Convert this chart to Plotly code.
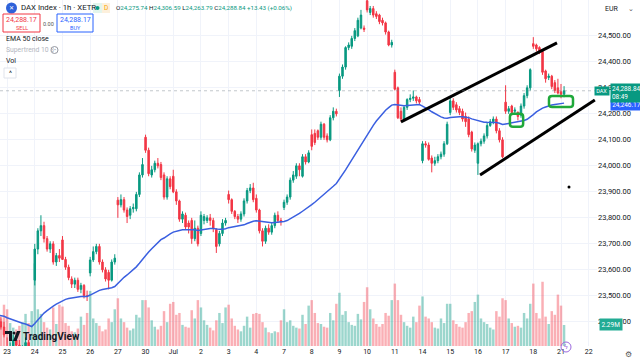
import plotly.graph_objects as go

# ---------------- data ----------------
DAY_LABELS = ["23", "24", "25", "26", "27", "30", "Jul", "2", "3", "4", "7",
              "8", "9", "10", "11", "14", "15", "16", "17", "18", "21", "22"]
BARS_PER_DAY = 9
FIRST_INDEX = -3   # last three hourly bars of Jun 20 precede Jun 23

OPEN = [23420, 23400, 23380,
        23300, 23280, 23300, 23330, 23310, 23270, 23290, 23320, 23260,
        23560, 23680, 23750, 23770, 23720, 23680, 23700, 23630, 23655,
        23715, 23640, 23610, 23565, 23545, 23560, 23525, 23540, 23500,
        23588, 23638, 23670, 23690, 23630, 23600, 23590, 23560, 23630,
        23868, 23850, 23870, 23830, 23810, 23835, 23835, 23890, 23965,
        24110, 24060, 23965, 23985, 24010, 24005, 23965, 23880, 23950,
        23960, 23900, 23865, 23795, 23810, 23780, 23790, 23720, 23760,
        23740, 23790, 23790, 23800, 23790, 23755, 23700, 23740, 23780,
        23890, 23870, 23825, 23805, 23795, 23815, 23865, 23905, 23915,
        23875, 23830, 23750, 23710, 23760, 23745, 23770, 23810, 23790,
        23840, 23860, 23880, 23945, 23960, 24000, 23960, 24035, 24015,
        24120, 24125, 24135, 24110, 24160, 24115, 24100, 24185, 24210,
        24290, 24345, 24380, 24455, 24460, 24490, 24500, 24530, 24530,
        24635, 24590, 24605, 24585, 24580, 24560, 24550, 24515, 24465,
        24360, 24300, 24210, 24180, 24225, 24255, 24260, 24265, 24255,
        24020, 24085, 24080, 24030, 24010, 24020, 24035, 24045, 24085,
        24205, 24250, 24235, 24220, 24210, 24190, 24180, 24130, 24060,
        24010, 24085, 24095, 24115, 24155, 24170, 24180, 24135, 24100,
        24245, 24210, 24230, 24210, 24205, 24195, 24230, 24270, 24300,
        24470, 24465, 24455, 24440, 24365, 24340, 24345, 24320, 24300,
        24285, 24275.74]
HIGH = [23440, 23420, 23400,
        23340, 23320, 23350, 23360, 23330, 23310, 23340, 23330, 23290,
        23700, 23760, 23810, 23785, 23730, 23710, 23710, 23665, 23680,
        23730, 23650, 23620, 23575, 23570, 23570, 23550, 23545, 23520,
        23650, 23690, 23700, 23700, 23640, 23610, 23600, 23640, 23660,
        23880, 23890, 23880, 23840, 23845, 23855, 23900, 23975, 24030,
        24120, 24070, 24000, 24020, 24030, 24015, 23975, 23960, 23960,
        23985, 23910, 23870, 23825, 23820, 23790, 23800, 23790, 23770,
        23825, 23815, 23810, 23815, 23800, 23760, 23750, 23795, 23800,
        23905, 23875, 23830, 23815, 23825, 23875, 23915, 23930, 23935,
        23890, 23835, 23760, 23770, 23775, 23780, 23820, 23825, 23800,
        23870, 23890, 23955, 23980, 24010, 24010, 24045, 24045, 24060,
        24140, 24140, 24140, 24170, 24165, 24125, 24195, 24225, 24220,
        24355, 24390, 24460, 24475, 24500, 24530, 24570, 24600, 24540,
        24640, 24615, 24615, 24595, 24585, 24570, 24555, 24520, 24485,
        24370, 24305, 24225, 24230, 24260, 24275, 24290, 24270, 24265,
        24095, 24095, 24090, 24040, 24035, 24045, 24055, 24095, 24170,
        24265, 24260, 24245, 24230, 24220, 24205, 24190, 24135, 24090,
        24090, 24105, 24125, 24165, 24180, 24190, 24190, 24145, 24110,
        24310, 24230, 24235, 24225, 24210, 24240, 24280, 24310, 24375,
        24495, 24470, 24460, 24445, 24370, 24355, 24350, 24330, 24335,
        24315, 24306.59]
LOW = [23390, 23370, 23340,
       23240, 23250, 23280, 23290, 23260, 23250, 23270, 23250, 23240,
       23540, 23660, 23730, 23705, 23670, 23665, 23620, 23615, 23630,
       23640, 23600, 23560, 23530, 23530, 23515, 23510, 23490, 23480,
       23575, 23630, 23660, 23620, 23590, 23555, 23525, 23555, 23620,
       23800, 23840, 23820, 23780, 23795, 23820, 23825, 23880, 23955,
       24050, 23960, 23955, 23975, 23990, 23945, 23870, 23870, 23910,
       23895, 23850, 23785, 23780, 23755, 23740, 23700, 23710, 23690,
       23730, 23775, 23780, 23770, 23745, 23665, 23690, 23730, 23770,
       23855, 23815, 23795, 23780, 23785, 23805, 23855, 23895, 23860,
       23820, 23740, 23690, 23700, 23735, 23735, 23760, 23780, 23770,
       23830, 23850, 23870, 23935, 23950, 23960, 23955, 24005, 24010,
       24060, 24080, 24100, 24100, 24100, 24090, 24095, 24175, 24190,
       24265, 24335, 24370, 24445, 24450, 24480, 24495, 24525, 24515,
       24590, 24580, 24570, 24565, 24545, 24540, 24505, 24460, 24455,
       24290, 24180, 24170, 24175, 24215, 24245, 24250, 24240, 24235,
       24010, 24070, 24020, 23975, 24000, 24010, 24025, 24035, 24080,
       24195, 24215, 24205, 24195, 24170, 24150, 24110, 24055, 24050,
       23965, 24075, 24085, 24105, 24150, 24160, 24125, 24090, 24030,
       24200, 24200, 24195, 24200, 24175, 24185, 24220, 24260, 24290,
       24450, 24440, 24430, 24350, 24320, 24330, 24295, 24280, 24275,
       24260, 24263.79]
CLOSE = [23400, 23380, 23350,
         23280, 23300, 23330, 23310, 23270, 23290, 23320, 23260, 23270,
         23680, 23750, 23770, 23720, 23680, 23700, 23630, 23655, 23645,
         23640, 23610, 23570, 23545, 23560, 23525, 23540, 23500, 23498,
         23638, 23670, 23690, 23630, 23600, 23565, 23560, 23630, 23645,
         23850, 23870, 23830, 23805, 23835, 23840, 23890, 23965, 24005,
         24060, 23970, 23985, 24010, 24000, 23955, 23880, 23950, 23920,
         23900, 23865, 23795, 23815, 23765, 23765, 23720, 23760, 23700,
         23810, 23805, 23800, 23790, 23760, 23690, 23740, 23780, 23790,
         23870, 23825, 23805, 23795, 23815, 23865, 23905, 23915, 23870,
         23830, 23750, 23710, 23760, 23745, 23770, 23810, 23790, 23785,
         23860, 23880, 23945, 23965, 24000, 23985, 24035, 24015, 24050,
         24075, 24090, 24110, 24160, 24110, 24100, 24185, 24210, 24200,
         24345, 24380, 24455, 24465, 24490, 24520, 24560, 24580, 24525,
         24600, 24605, 24580, 24575, 24555, 24550, 24515, 24465, 24475,
         24295, 24185, 24180, 24225, 24255, 24260, 24265, 24250, 24245,
         24085, 24080, 24025, 24010, 24020, 24035, 24045, 24085, 24160,
         24250, 24225, 24215, 24205, 24180, 24170, 24120, 24065, 24080,
         24085, 24095, 24115, 24155, 24170, 24180, 24135, 24100, 24035,
         24210, 24220, 24205, 24215, 24190, 24230, 24270, 24300, 24370,
         24460, 24450, 24440, 24360, 24335, 24345, 24305, 24290, 24280,
         24275.41, 24288.84]
VOLUME_M = [3.5, 3.0, 4.5,
            4.0, 2.5, 2.0, 1.8, 2.2, 2.6, 3.5, 2.5, 3.8,
            9.0, 4.0, 3.5, 2.6, 2.0, 1.8, 4.2, 2.4, 4.5,
            4.3, 2.5, 2.2, 1.6, 1.5, 1.9, 3.2, 2.3, 3.6,
            6.0, 3.0, 2.5, 2.2, 1.6, 1.8, 3.0, 2.6, 4.0,
            5.2, 3.0, 2.6, 2.0, 1.7, 1.9, 3.4, 3.1, 5.0,
            5.0, 4.2, 2.8, 2.1, 1.8, 2.2, 3.8, 2.6, 4.6,
            4.8, 3.4, 3.6, 2.3, 2.1, 2.0, 3.9, 3.0, 5.0,
            4.2, 2.8, 2.3, 2.0, 1.7, 2.8, 3.6, 2.5, 4.2,
            4.5, 3.0, 2.2, 1.8, 1.6, 2.2, 3.2, 2.0, 3.5,
            3.6, 3.5, 2.6, 2.0, 1.5, 1.4, 1.6, 1.5, 2.8,
            4.0, 2.6, 2.8, 2.2, 2.0, 1.9, 3.4, 2.4, 4.4,
            5.0, 3.6, 2.5, 2.4, 2.1, 2.0, 3.6, 2.8, 4.6,
            5.8, 3.4, 3.8, 2.6, 2.3, 2.2, 3.5, 2.9, 4.8,
            6.4, 4.0, 3.0, 2.4, 2.1, 2.4, 3.6, 3.3, 5.0,
            6.8, 5.0, 3.4, 2.6, 2.2, 2.0, 3.2, 2.6, 4.4,
            5.4, 3.2, 3.0, 2.6, 2.0, 1.9, 3.0, 2.5, 4.6,
            4.6, 2.8, 2.4, 2.1, 2.0, 2.6, 3.6, 3.8, 4.8,
            5.6, 3.0, 2.6, 2.4, 2.0, 1.8, 3.8, 3.2, 5.2,
            5.0, 3.0, 2.5, 2.1, 2.2, 2.0, 3.6, 3.0, 4.6,
            6.8, 3.6, 3.0, 7.0, 3.2, 2.4, 3.8, 3.4, 5.6,
            4.4, 2.29]

EMA_LENGTH = 50
EMA_SEED = 23427.0          # EMA value at the left edge of the picture

PRICE_TICKS = [23300, 23400, 23500, 23600, 23700, 23800, 23900,
               24000, 24100, 24200, 24300, 24400, 24500]

# drawings (bar index, price)
UPPER_LINE_X = [128.0, 178.7]
UPPER_LINE_Y = [24169, 24473]
LOWER_LINE_X = [153.7, 191.0]
LOWER_LINE_Y = [23965, 24253]
BOX1_X = [163.4, 167.7]
BOX1_Y = [24150, 24200]
BOX2_X = [176.1, 183.9]
BOX2_Y = [24226, 24269]
DOT_X = [182.6]
DOT_Y = [23919]

LAST_PRICE = 24288.84
EMA_LABEL = 24246.17
LAST_VOL = 2.29
LEGEND_OHLC = ["24,275.74", "24,306.59", "24,263.79", "24,288.84"]
LEGEND_CHANGE = "+13.43 (+0.06%)"
BID_ASK = "24,288.17"

# ---------------- derived ----------------
X = [FIRST_INDEX + i for i in range(len(CLOSE))]
alpha = 2.0 / (EMA_LENGTH + 1)
ema = []
prev = EMA_SEED
for c in CLOSE:
    prev = alpha * c + (1 - alpha) * prev
    ema.append(prev)

UP = "#089981"
DOWN = "#f23645"
vol_colors = ["rgba(8,153,129,0.40)" if c >= o else "rgba(242,54,69,0.40)"
              for o, c in zip(OPEN, CLOSE)]
tick_idx = [BARS_PER_DAY * d for d in range(len(DAY_LABELS))]

W, H = 640, 362
PW, PH = 597, 346
FONT = "Roboto, Liberation Sans, sans-serif"
TXT = "#131722"


def px(xp):
    return xp / PW


def py(yp):
    return 1 - yp / PH


fig = go.Figure()
fig.add_trace(go.Bar(x=X, y=VOLUME_M, marker=dict(color=vol_colors, line=dict(width=0)),
                     yaxis="y", hoverinfo="skip"))
fig.add_trace(go.Candlestick(x=X, open=OPEN, high=HIGH, low=LOW, close=CLOSE,
                             yaxis="y2", whiskerwidth=0,
                             increasing=dict(line=dict(color=UP, width=1), fillcolor=UP),
                             decreasing=dict(line=dict(color=DOWN, width=1), fillcolor=DOWN)))
fig.add_trace(go.Scatter(x=X, y=ema, yaxis="y2", mode="lines",
                         line=dict(color="#3a5fe0", width=1.5)))
fig.add_trace(go.Scatter(x=UPPER_LINE_X, y=UPPER_LINE_Y, yaxis="y2", mode="lines",
                         line=dict(color="black", width=3)))
fig.add_trace(go.Scatter(x=LOWER_LINE_X, y=LOWER_LINE_Y, yaxis="y2", mode="lines",
                         line=dict(color="black", width=3)))
fig.add_trace(go.Scatter(x=DOT_X, y=DOT_Y, yaxis="y2", mode="markers",
                         marker=dict(color="black", size=3)))


def rounded(xs, ys, rx=1.0, ry=11.0):
    x0, x1 = xs
    y0, y1 = ys
    return (f"M {x0+rx},{y1} L {x1-rx},{y1} Q {x1},{y1} {x1},{y1-ry} "
            f"L {x1},{y0+ry} Q {x1},{y0} {x1-rx},{y0} L {x0+rx},{y0} "
            f"Q {x0},{y0} {x0},{y0+ry} L {x0},{y1-ry} Q {x0},{y1} {x0+rx},{y1} Z")


shapes = []
for bx, by in ((BOX1_X, BOX1_Y), (BOX2_X, BOX2_Y)):
    shapes.append(dict(type="path", xref="x", yref="y2", path=rounded(bx, by),
                       line=dict(color="#1fa83a", width=2.5)))
# last price dotted line
shapes.append(dict(type="line", xref="paper", yref="y2", x0=0, x1=1,
                   y0=LAST_PRICE, y1=LAST_PRICE,
                   line=dict(color="rgba(120,130,140,0.45)", width=1, dash="dot")))


def pbox(x0, y0, x1, y1, line, fill="white", w=1):
    shapes.append(dict(type="rect", xref="paper", yref="paper", x0=px(x0), x1=px(x1),
                       y0=py(y1), y1=py(y0), line=dict(color=line, width=w),
                       fillcolor=fill, layer="above"))


# header boxes
shapes.append(dict(type="circle", xref="paper", yref="paper", x0=px(6), x1=px(17),
                   y0=py(13.5), y1=py(2.5), fillcolor="#2f62d9", line=dict(width=0)))
pbox(93, 3, 102, 13, "rgba(0,0,0,0)", "#e3f5ec")
shapes.append(dict(type="circle", xref="paper", yref="paper", x0=px(95.5), x1=px(99.5),
                   y0=py(10), y1=py(6), fillcolor="#089981", line=dict(width=0)))
pbox(102, 3, 110, 13, "rgba(0,0,0,0)", "#fdf0dc")
pbox(3, 14, 40, 32, "#f23645")
pbox(57, 14, 93, 32, "#2962ff")
pbox(4, 68, 16, 78, "#e0e3eb")
shapes.append(dict(type="circle", xref="paper", yref="paper", x0=px(51), x1=px(58),
                   y0=py(53.5), y1=py(46.5), line=dict(color="#9598a1", width=1)))
# TradingView logo mark
shapes.append(dict(type="path", xref="paper", yref="paper",
                   path=(f"M {px(5)},{py(331)} L {px(12)},{py(331)} L {px(12)},{py(341)} "
                         f"L {px(9)},{py(341)} L {px(9)},{py(334)} L {px(5)},{py(334)} Z"),
                   fillcolor="#131722", line=dict(width=0)))
shapes.append(dict(type="circle", xref="paper", yref="paper", x0=px(12.5), x1=px(15.5),
                   y0=py(334.5), y1=py(331.5), fillcolor="#131722", line=dict(width=0)))
shapes.append(dict(type="path", xref="paper", yref="paper",
                   path=(f"M {px(17)},{py(331)} L {px(20.5)},{py(331)} L {px(16.5)},{py(341)} "
                         f"L {px(13)},{py(341)} Z"),
                   fillcolor="#131722", line=dict(width=0)))
shapes.append(dict(type="circle", xref="paper", yref="paper", x0=px(561), x1=px(571),
                   y0=py(352), y1=py(342), line=dict(color="#9c6ade", width=1)))

ann = []


def text(xp, yp, s, size=7.5, color=TXT, anchor="left", **kw):
    ann.append(dict(xref="paper", yref="paper", x=px(xp), y=py(yp), text=s,
                    showarrow=False, xanchor=anchor, yanchor="middle",
                    font=dict(family=FONT, size=size, color=color), **kw))


text(11.5, 8, "✕", 6, "white", "center")
text(19, 8, "DAX Index · 1h · XETR", 7.8)
text(106, 8, "D", 6.5, "#f7a400", "center")
g = UP
ohlc = (f"O<span style='color:{g}'>{LEGEND_OHLC[0]}</span> "
        f"H<span style='color:{g}'>{LEGEND_OHLC[1]}</span> "
        f"L<span style='color:{g}'>{LEGEND_OHLC[2]}</span> "
        f"C<span style='color:{g}'>{LEGEND_OHLC[3]}</span> "
        f"<span style='color:{g}'>{LEGEND_CHANGE}</span>")
text(114, 8, ohlc, 6.2)
text(21.5, 20, BID_ASK, 7, "#f23645", "center")
text(21.5, 27.5, "SELL", 5.5, "#f23645", "center")
text(48.5, 24, "0.00", 5.5, "#555", "center")
text(75, 20, BID_ASK, 7, "#2962ff", "center")
text(75, 27.5, "BUY", 5.5, "#2962ff", "center")
text(4, 39.5, "EMA 50 close", 7)
text(4, 50, "Supertrend 10 3", 6.8, "#b2b5be")
text(54.5, 50, "•", 6, "#9598a1", "center")
text(4, 61, "Vol", 7)
text(10, 73.5, "^", 7, TXT, "center")
text(21, 336, "<b>TradingView</b>", 10)
text(566, 347, "ϟ", 7, "#9c6ade", "center")
text(603, 9, "EUR", 7)
text(631, 9, "⌄", 7, "#555", "center")
text(628, 355, "⚙", 8, "#555", "center")

# right-side price labels
ann.append(dict(xref="paper", yref="y2", x=px(609.5), y=EMA_LABEL, text=f"{EMA_LABEL:,.2f}",
                showarrow=False, xanchor="left", yanchor="middle", bgcolor="#2962ff",
                font=dict(family=FONT, size=6.4, color="white"), borderpad=1.2, width=28,
                align="left", yshift=-3))
ann.append(dict(xref="paper", yref="y2", x=px(609.5), y=LAST_PRICE,
                text=f"{LAST_PRICE:,.2f}<br>08:49", showarrow=False, xanchor="left",
                yanchor="middle", bgcolor=UP, font=dict(family=FONT, size=6.4, color="white"),
                borderpad=1, width=28, align="left", yshift=-2))
ann.append(dict(xref="paper", yref="y2", x=px(609.5), y=LAST_PRICE, text="DAX",
                showarrow=False, xanchor="right", yanchor="middle", bgcolor=UP,
                font=dict(family=FONT, size=5.5, color="white"), borderpad=1.2))
ann.append(dict(xref="paper", yref="y", x=px(599), y=LAST_VOL, text=f"{LAST_VOL:.2f}M",
                showarrow=False, xanchor="left", yanchor="middle", bgcolor="#22ab94",
                font=dict(family=FONT, size=6.5, color="white"), borderpad=1.5))

fig.update_layout(
    width=W, height=H, margin=dict(l=0, r=W - PW, t=0, b=H - PH),
    paper_bgcolor="white", plot_bgcolor="white", showlegend=False,
    bargap=0.2, shapes=shapes, annotations=ann,
    xaxis=dict(range=[-2.3, 191.7], tickmode="array", tickvals=tick_idx, ticktext=DAY_LABELS,
               showgrid=True, gridcolor="#f0f3fa", zeroline=False, showline=False,
               ticks="", tickfont=dict(family=FONT, size=7, color=TXT),
               rangeslider=dict(visible=False)),
    yaxis=dict(range=[0, 37.7], visible=False, showgrid=False, zeroline=False),
    yaxis2=dict(range=[23307, 24638], overlaying="y", side="right", tickmode="array",
                tickvals=PRICE_TICKS, ticktext=[f"{v:,.2f}" for v in PRICE_TICKS],
                showgrid=True, gridcolor="#f0f3fa", zeroline=False, showline=False,
                ticks="", tickfont=dict(family=FONT, size=7.5, color=TXT)),
)

fig.write_html("out.html", config={"displayModeBar": False},
               post_script="document.body.style.margin='0';")
